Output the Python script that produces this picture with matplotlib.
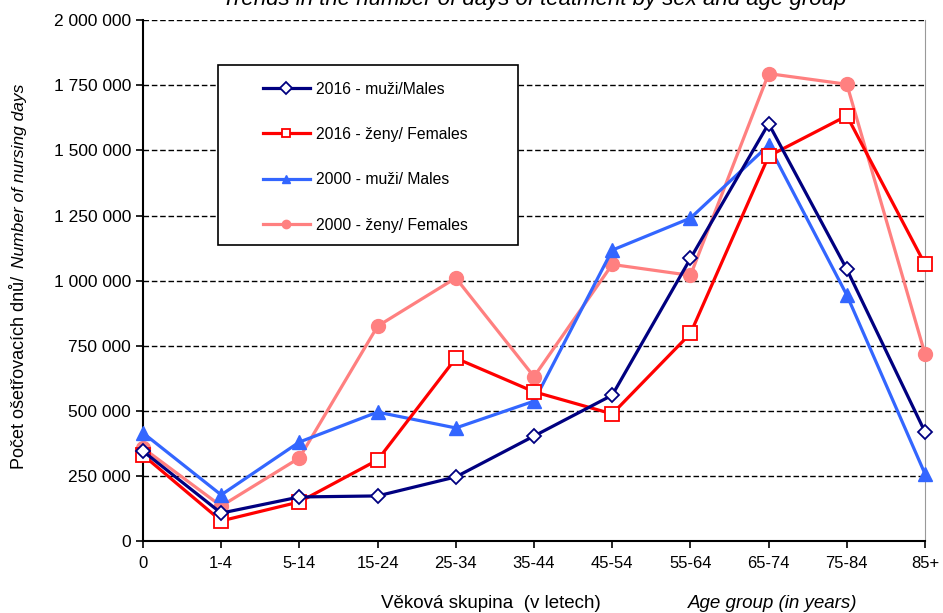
import matplotlib
matplotlib.use("Agg")
from matplotlib import pyplot as plt
from matplotlib.patches import Rectangle
from matplotlib.ticker import FuncFormatter

plt.rcParams['font.family'] = ['Liberation Sans', 'DejaVu Sans']

age_groups = ['0', '1-4', '5-14', '15-24', '25-34', '35-44', '45-54',
              '55-64', '65-74', '75-84', '85+']

males_2016 = [345000, 107000, 169000, 173000, 246000, 403000, 560000,
              1085000, 1603000, 1043000, 418000]
females_2016 = [330000, 77000, 150000, 311000, 702000, 573000, 488000,
                797000, 1478000, 1633000, 1062000]
males_2000 = [415000, 177000, 380000, 495000, 434000, 537000, 1117000,
              1240000, 1520000, 944000, 257000]
females_2000 = [357000, 134000, 319000, 825000, 1010000, 631000, 1062000,
                1020000, 1795000, 1754000, 717000]

y_ticks = [0, 250000, 500000, 750000, 1000000, 1250000, 1500000, 1750000, 2000000]

fig = plt.figure(figsize=(9.43, 6.13), dpi=100)
ax = fig.add_axes([0.1516, 0.1175, 0.8294, 0.8495])

x = range(len(age_groups))

ax.plot(x, females_2000, color='#FF8080', lw=2.3, marker='o', ms=10,
        mfc='#FF8080', mec='#FF8080', label='2000 - ženy/ Females',
        clip_on=False, zorder=3)
ax.plot(x, males_2000, color='#3366FF', lw=2.3, marker='^', ms=10,
        mfc='#3366FF', mec='#3366FF', label='2000 - muži/ Males',
        clip_on=False, zorder=4)
ax.plot(x, females_2016, color='#FF0000', lw=2.3, marker='s', ms=10,
        mfc='white', mec='#FF0000', mew=1.3, label='2016 - ženy/ Females',
        clip_on=False, zorder=5)
ax.plot(x, males_2016, color='#000080', lw=2.3, marker='D', ms=7,
        mfc='white', mec='#000080', mew=1.3, label='2016 - muži/Males',
        clip_on=False, zorder=6)

ax.set_xlim(0, 10)
ax.set_ylim(0, 2000000)
ax.set_xticks(list(x))
ax.set_xticklabels(age_groups, fontsize=12)
ax.set_yticks(y_ticks)
ax.yaxis.set_major_formatter(FuncFormatter(lambda v, p: f'{int(v):,}'.replace(',', ' ')))
ax.tick_params(axis='y', labelsize=12.5, direction='out', length=5, width=1.2)
ax.tick_params(axis='x', direction='out', length=5, width=1.2, pad=6)

ax.yaxis.grid(True, linestyle=(0, (4, 2)), color='black', lw=1.0)
ax.set_axisbelow(True)

ax.spines['left'].set_linewidth(1.5)
ax.spines['bottom'].set_linewidth(1.5)
ax.spines['right'].set_color('#999999')
ax.spines['top'].set_visible(False)

# legend box
ax.add_patch(Rectangle((0.0959, 0.568), 0.3836, 0.3455, transform=ax.transAxes,
                       facecolor='white', edgecolor='black', lw=1.2, zorder=7))
handles, labels = ax.get_legend_handles_labels()
leg = ax.legend(handles[::-1], labels[::-1], loc='upper left',
                bbox_to_anchor=(0.153, 0.882), fontsize=11.3, frameon=False,
                labelspacing=1.93, handlelength=3.0, handletextpad=0.4,
                borderpad=0, borderaxespad=0)
leg.set_zorder(8)
for h in leg.legend_handles:
    h.set_markersize(6)

fig.text(0.567, 1 - 5 / 613, 'Trends in the number of days of teatment by sex and age group',
         ha='center', va='baseline', fontsize=16, style='italic')

fig.text(0.521, 1 - 603 / 613, 'Věková skupina  (v letech)', ha='center', va='center',
         fontsize=13.5)
fig.text(0.819, 1 - 603 / 613, 'Age group (in years)', ha='center', va='center',
         fontsize=13.5, style='italic')

fig.text(0.021, 1 - 372 / 613, 'Počet ošetřovacích dnů/', rotation=90,
         ha='center', va='center', fontsize=13)
fig.text(0.021, 1 - 176 / 613, 'Number of nursing days', rotation=90,
         ha='center', va='center', fontsize=12.5, style='italic')

fig.savefig('out.png', dpi=100)
